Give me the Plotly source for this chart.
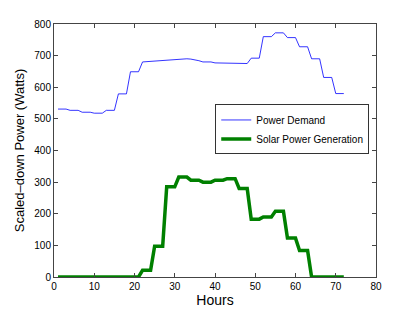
import plotly.graph_objects as go

hours = list(range(1, 73))

power_demand = [
    531, 531, 531, 527, 527, 527, 521, 521, 521, 518, 518, 518,
    527, 527, 527, 579, 579, 579, 649, 649, 649, 680, 681, 682,
    683, 684, 685, 686, 687, 688, 690, 690, 690, 689, 687, 684,
    680, 680, 680, 677, 677, 677, 676, 676, 676, 675, 675, 675,
    692, 692, 692, 760, 760, 760, 772, 772, 772, 757, 757, 757,
    728, 728, 728, 690, 690, 690, 631, 631, 631, 580, 580, 580,
]

solar_generation = [
    0, 0, 0, 0, 0, 0, 0, 0, 0, 0, 0, 0,
    0, 0, 0, 0, 0, 0, 0, 0, 0, 21, 21, 21,
    97, 97, 97, 285, 285, 285, 316, 316, 316, 306, 306, 306,
    300, 300, 300, 306, 306, 306, 311, 311, 311, 280, 280, 280,
    183, 183, 183, 190, 190, 190, 208, 208, 208, 123, 123, 123,
    84, 84, 84, 0, 0, 0, 0, 0, 0, 0, 0, 0,
]

x_ticks = [0, 10, 20, 30, 40, 50, 60, 70, 80]
y_ticks = [0, 100, 200, 300, 400, 500, 600, 700, 800]

font_family = "Liberation Sans, Arial, sans-serif"

fig = go.Figure()
fig.add_trace(go.Scatter(
    x=hours, y=power_demand, mode="lines", name="Power Demand",
    line=dict(color="#0000FF", width=0.8),
))
fig.add_trace(go.Scatter(
    x=hours, y=solar_generation, mode="lines", name="Solar Power Generation",
    line=dict(color="#008000", width=3.5),
))

axis_common = dict(
    showline=True, linecolor="#444444", linewidth=1, mirror="ticks",
    ticks="inside", ticklen=4, tickcolor="#444444", tickwidth=1,
    showgrid=False, zeroline=False, automargin=False,
    tickfont=dict(family=font_family, size=10, color="black"),
)

# page has an 8px body margin, so the figure is sized/margined to compensate
fig.update_layout(
    width=407, height=304,
    margin=dict(l=46, r=39, t=16, b=35),
    paper_bgcolor="white", plot_bgcolor="white",
    font=dict(family=font_family, color="black"),
    xaxis=dict(range=[0, 80], tickvals=x_ticks,
               title=dict(text="Hours", font=dict(size=14), standoff=2),
               **axis_common),
    yaxis=dict(range=[0, 800], tickvals=y_ticks,
               title=dict(text="Scaled–down Power (Watts)", font=dict(size=13), standoff=6),
               **axis_common),
    legend=dict(
        x=0.979, y=0.682, xanchor="right", yanchor="top",
        bgcolor="white", bordercolor="#333333", borderwidth=1,
        font=dict(size=10, family=font_family),
        tracegroupgap=0, itemwidth=30,
    ),
    showlegend=True,
)

fig.write_html("out.html")
